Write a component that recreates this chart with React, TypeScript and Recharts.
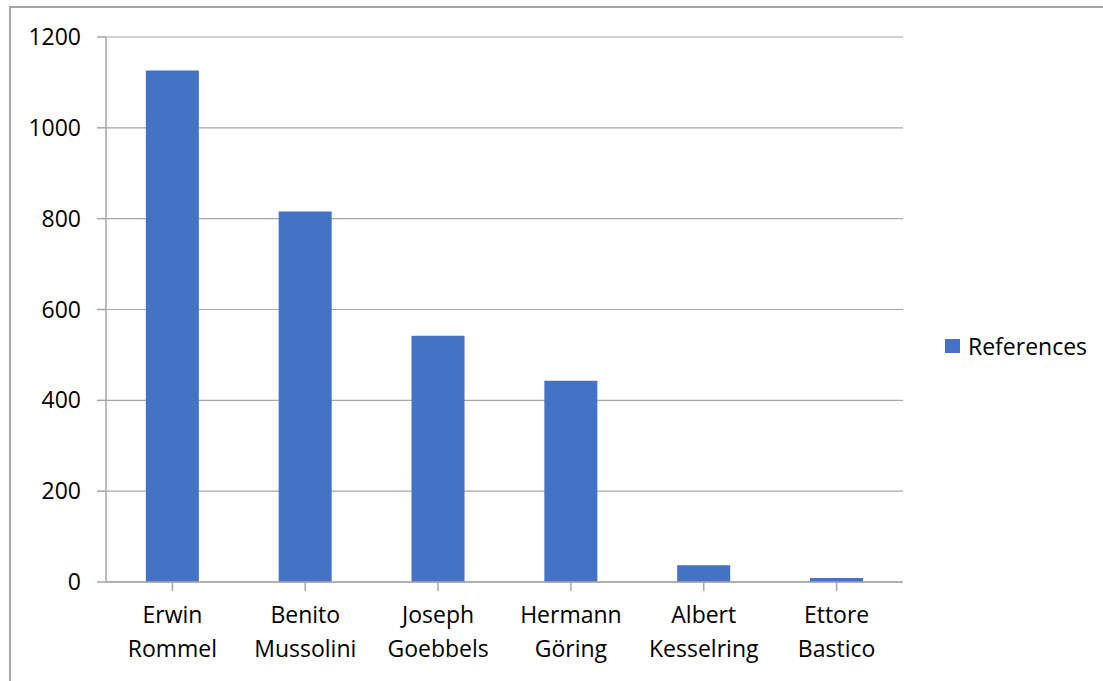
import React from "react";
import { BarChart, Bar, XAxis, YAxis, CartesianGrid } from "recharts";

const categories = ["Erwin Rommel", "Benito Mussolini", "Joseph Goebbels", "Hermann Göring", "Albert Kesselring", "Ettore Bastico"];
const references = [1126, 816, 542, 443, 37, 9];
const yTicks = [0, 200, 400, 600, 800, 1000, 1200];
const seriesName = "References";

const data = categories.map((c, i) => ({ name: c, value: references[i] }));

const FONT = "'Open Sans', sans-serif";
const FS = 23;

const CatTick = (props: any) => {
  const { x, y, payload } = props;
  const parts = String(payload.value).split(" ");
  return (
    <g transform={`translate(${x},${y})`}>
      {parts.map((p: string, i: number) => (
        <text key={i} x={0} y={30 + i * 34} textAnchor="middle" fill="#000" fontSize={FS} fontFamily={FONT}>
          {p}
        </text>
      ))}
    </g>
  );
};

export default function App() {
  return (
    <div style={{ position: "absolute", left: 0, top: 0, width: 1103, height: 681, background: "#fff", overflow: "hidden" }}>
      <div style={{ position: "absolute", left: 9, top: 6, width: 1100, height: 700, borderLeft: "2px solid #a6a6a6", borderTop: "2px solid #a6a6a6", boxSizing: "border-box" }} />
      <div style={{ position: "absolute", left: 0, top: 0 }}>
        <BarChart width={1103} height={681} data={data} margin={{ top: 37, right: 200, left: 26, bottom: 39 }} barCategoryGap="30%">
          <CartesianGrid vertical={false} stroke="#a6a6a6" strokeWidth={1.2} />
          <XAxis
            dataKey="name"
            interval={0}
            height={60}
            tick={<CatTick />}
            tickSize={9}
            axisLine={{ stroke: "#a6a6a6", strokeWidth: 1.5 }}
            tickLine={{ stroke: "#a6a6a6", strokeWidth: 1.5 }}
          />
          <YAxis
            domain={[0, 1200]}
            ticks={yTicks}
            width={80}
            tickSize={9}
            tickMargin={16}
            interval={0}
            axisLine={{ stroke: "#a6a6a6", strokeWidth: 1.5 }}
            tickLine={{ stroke: "#a6a6a6", strokeWidth: 1.5 }}
            tick={{ fill: "#000", fontSize: FS, fontFamily: FONT }}
          />
          <Bar dataKey="value" name={seriesName} fill="#4472C4" isAnimationActive={false} />
        </BarChart>
      </div>
      <div style={{ position: "absolute", left: 945, top: 330, display: "flex", alignItems: "center", fontFamily: FONT, fontSize: FS, color: "#000", whiteSpace: "nowrap" }}>
        <span style={{ display: "inline-block", width: 15, height: 14, background: "#4472C4", marginRight: 8 }} />
        <span>{seriesName}</span>
      </div>
    </div>
  );
}
